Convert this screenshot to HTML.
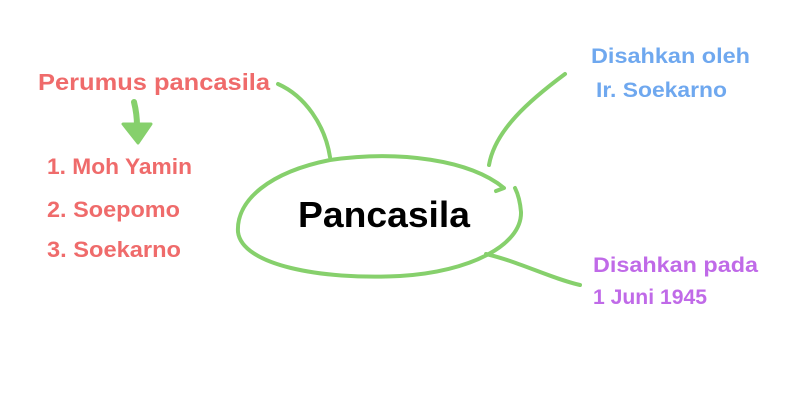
<!DOCTYPE html>
<html><head><meta charset="utf-8"><style>
html,body{margin:0;padding:0;background:#fff;}
svg{display:block}
text{font-family:"Liberation Sans","DejaVu Sans",sans-serif;font-weight:bold;}
</style></head><body>
<svg width="800" height="420" viewBox="0 0 800 420" xmlns="http://www.w3.org/2000/svg">
<g fill="none" stroke="#86d06c" stroke-width="4" stroke-linecap="round" stroke-linejoin="round">
<path d="M496,191 L504,188 C470,160 400,150 330,160 C270,172 236,200 238,232 C242,265 320,280 400,276 C470,272 522,245 521,212 C520,200 517,192 515,188"/>
<path d="M278,84 C305,96 325,125 330,157"/>
<path d="M565,74 C530,100 495,130 489,165"/>
<path d="M486,254 C520,262 550,278 580,285"/>
<path d="M134,102 C136,110 137,118 137,126" stroke-width="6"/>
</g>
<polygon points="123,124 151,124 138,143" fill="#86d06c" stroke="#86d06c" stroke-width="3" stroke-linejoin="round"/>
<g lengthAdjust="spacingAndGlyphs">
<text x="38" y="90" font-size="23" fill="#ef6b6b" textLength="232" lengthAdjust="spacingAndGlyphs">Perumus pancasila</text>
<text x="47" y="174" font-size="22" fill="#ef6b6b" textLength="145" lengthAdjust="spacingAndGlyphs">1. Moh Yamin</text>
<text x="47" y="217" font-size="22" fill="#ef6b6b" textLength="133" lengthAdjust="spacingAndGlyphs">2. Soepomo</text>
<text x="47" y="257" font-size="22" fill="#ef6b6b" textLength="134" lengthAdjust="spacingAndGlyphs">3. Soekarno</text>
<text x="298" y="227" font-size="36" fill="#000" textLength="172" lengthAdjust="spacingAndGlyphs">Pancasila</text>
<text x="591" y="63" font-size="21" fill="#6fa8ef" textLength="159" lengthAdjust="spacingAndGlyphs">Disahkan oleh</text>
<text x="596" y="97" font-size="21" fill="#6fa8ef" textLength="131" lengthAdjust="spacingAndGlyphs">Ir. Soekarno</text>
<text x="593" y="272" font-size="21" fill="#c06ae8" textLength="165" lengthAdjust="spacingAndGlyphs">Disahkan pada</text>
<text x="593" y="304" font-size="21" fill="#c06ae8" textLength="114" lengthAdjust="spacingAndGlyphs">1 Juni 1945</text>
</g>
</svg>
</body></html>
